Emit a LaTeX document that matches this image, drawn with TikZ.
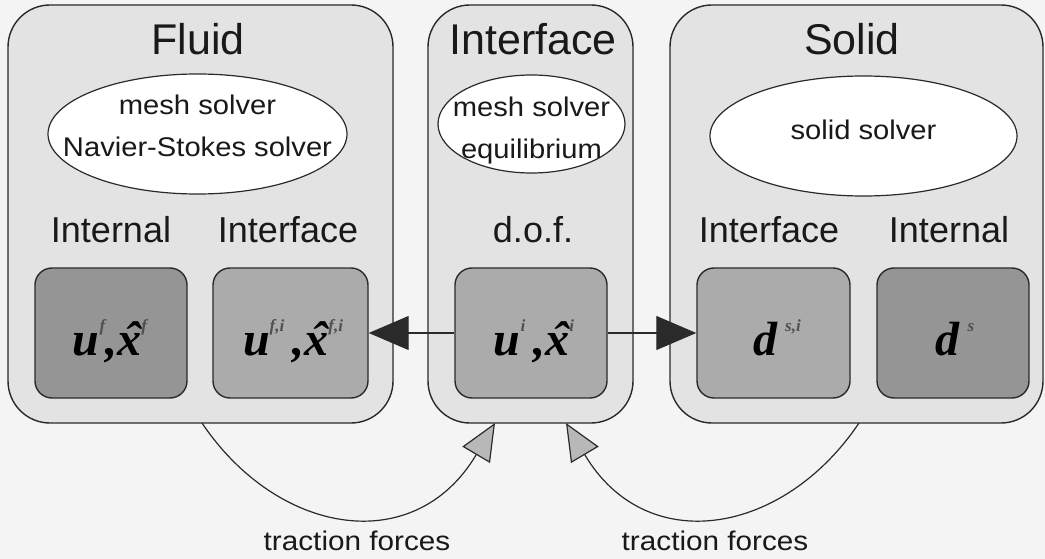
\documentclass[tikz,border=0pt]{standalone}
\usepackage{fontspec}
\setmainfont{Liberation Sans}
\newfontfamily\serifmath{Liberation Serif}
\usetikzlibrary{shapes.geometric,arrows.meta}
\definecolor{bgc}{HTML}{F4F4F4}
\definecolor{panelc}{HTML}{E3E3E3}
\definecolor{darkbox}{HTML}{959595}
\definecolor{lightbox}{HTML}{ABABAB}
\definecolor{edgec}{HTML}{2A2A2A}
\definecolor{headc}{HTML}{B8B8B8}
\definecolor{supc}{HTML}{505050}
\newcommand\supl[1]{\raisebox{0.5em}{\fontsize{17pt}{17pt}\selectfont\serifmath\bfseries\itshape\color{supc}#1}}
\newcommand\xhat{\ooalign{x\cr\hidewidth\kern0.14em\char"02C6\hidewidth\cr}}
\newcommand\mlab{\fontsize{48pt}{48pt}\selectfont\serifmath\bfseries\itshape}
\tikzset{
  panel/.style={draw=edgec, line width=1.4pt, fill=panelc, rounded corners=42pt, inner sep=0pt},
  solver/.style={ellipse, draw=edgec, line width=1.2pt, fill=white, inner sep=0pt},
  varbox/.style={draw=edgec, line width=1.4pt, rounded corners=17pt, inner sep=0pt,
                 minimum width=152pt, minimum height=130pt},
  titletxt/.style={anchor=base, inner sep=0pt, font=\fontsize{43pt}{50pt}\selectfont, text=black!90},
  labtxt/.style={anchor=base, inner sep=0pt, font=\fontsize{36pt}{42pt}\selectfont, text=black!90},
  soltxt/.style={inner sep=0pt, align=center, font=\fontsize{27pt}{42pt}\selectfont, text=black!90},
  mathtxt/.style={anchor=base, inner sep=0pt},
  bigarrow/.style={draw=edgec, line width=1.2pt, -{Triangle[length=40pt,width=34pt]}},
  forcearrow/.style={draw=edgec, line width=1.2pt, -{Triangle[length=37pt,width=32pt,fill=headc]}},
}
\begin{document}
\begin{tikzpicture}[x=1pt,y=-1pt]
\fill[bgc] (0,0) rectangle (1045,559);
\useasboundingbox (0,0) rectangle (1045,559);
% panels
\node[panel, minimum width=385pt, minimum height=418pt] (fluid) at (200.5,214) {};
\node[panel, minimum width=205pt, minimum height=418pt] (iface) at (530.5,214) {};
\node[panel, minimum width=373pt, minimum height=418pt] (solid) at (856.5,214) {};
% titles
\node[titletxt] (tfluid) at (198,55) {Fluid};
\node[titletxt] (tiface) at (533,55) {Interface};
\node[titletxt] (tsolid) at (852,55) {Solid};
% solvers
\node[solver, minimum width=299pt, minimum height=120pt] (fsolver) at (197.5,134) {};
\node[solver, minimum width=187pt, minimum height=98pt] (isolver) at (531.5,124) {};
\node[solver, minimum width=307pt, minimum height=120pt] (ssolver) at (863.5,136) {};
\node[soltxt, anchor=base] (fs1) at (197.5,115) {\scalebox{1.08}[1]{mesh solver}};
\node[soltxt, anchor=base] (fs2) at (197.5,157) {\scalebox{1.08}[1]{Navier-Stokes solver}};
\node[soltxt, anchor=base] (is1) at (531.5,117) {\scalebox{1.08}[1]{mesh solver}};
\node[soltxt, anchor=base] (is2) at (531.5,159) {\scalebox{1.08}[1]{equilibrium}};
\node[soltxt, anchor=base] (ss1) at (863.5,140) {\scalebox{1.08}[1]{solid solver}};
% column labels
\node[labtxt] (lfint) at (111,243) {Internal};
\node[labtxt] (lfif) at (288,243) {Interface};
\node[labtxt] (ldof) at (533,243) {d.o.f.};
\node[labtxt] (lsif) at (769,243) {Interface};
\node[labtxt] (lsint) at (949,243) {Internal};
% variable boxes
\node[varbox, fill=darkbox] (fint) at (111,333) {};
\node[varbox, fill=lightbox, minimum width=155pt] (fif) at (290.5,333) {};
\node[varbox, fill=lightbox] (idof) at (531,333) {};
\node[varbox, fill=lightbox, minimum width=153pt] (sif) at (773.5,333) {};
\node[varbox, fill=darkbox] (sint) at (953,333) {};
% variable labels
\node[mathtxt] (mfint) at (110,355) {\mlab u\supl{f},\xhat\supl{f}};
\node[mathtxt] (mfif) at (293,355) {\mlab u\supl{f,i}\,,\xhat\supl{f,i}};
\node[mathtxt] (midof) at (534,355) {\mlab u\supl{i}\,,\xhat\supl{i}};
\node[mathtxt] (msif) at (777,355) {\mlab d\,\supl{s,i}};
\node[mathtxt] (msint) at (955,355) {\mlab d\,\supl{s}};
% data transfer arrows
\draw[bigarrow] (idof.west) -- (fif.east);
\draw[bigarrow] (idof.east) -- (sif.west);
% traction force arrows
\coordinate (lstart) at (202,423);
\coordinate (lend) at (495,423);
\coordinate (rstart) at (859,423);
\coordinate (rend) at (566,423);
\draw[forcearrow] (lstart) .. controls (278,536) and (415,558) .. (lend);
\draw[forcearrow] (rstart) .. controls (783,536) and (646,558) .. (rend);
\node[soltxt, anchor=base] (tf1) at (357,550) {\scalebox{1.1}[1]{traction forces}};
\node[soltxt, anchor=base] (tf2) at (715,550) {\scalebox{1.1}[1]{traction forces}};
\end{tikzpicture}
\end{document}
